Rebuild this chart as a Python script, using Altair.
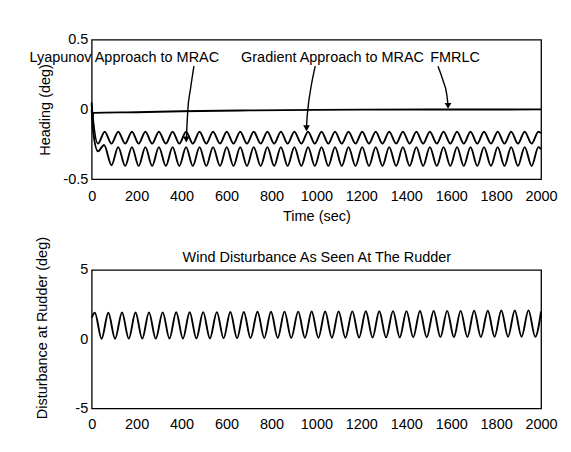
import altair as alt
import pandas as pd

FONT = "Liberation Sans"
FS = 14.5

time_ticks = [0, 200, 400, 600, 800, 1000, 1200, 1400, 1600, 1800, 2000]
heading_ticks = [-0.5, 0, 0.5]
dist_ticks = [-5, 0, 5]

# Heading, Gradient Approach to MRAC (upper oscillation): extrema
grad_t = [0, 4, 28, 58, 88, 118, 149, 179, 209, 239, 269, 299, 330, 360, 390, 420, 450, 480,
          510, 540, 571, 601, 631, 661, 691, 721, 752, 782, 812, 842, 872, 902, 933, 963,
          993, 1023, 1053, 1083, 1113, 1143, 1174, 1204, 1234, 1264, 1294, 1324, 1355, 1385,
          1415, 1445, 1475, 1505, 1536, 1566, 1596, 1626, 1656, 1686, 1716, 1746, 1777, 1807,
          1837, 1867, 1897, 1927, 1958, 1988, 2000]
grad_h = [0.03, -0.04, -0.245, -0.16, -0.245, -0.16, -0.245, -0.16, -0.245, -0.16, -0.245, -0.16,
          -0.245, -0.16, -0.245, -0.16, -0.245, -0.16, -0.245, -0.16, -0.245, -0.16, -0.245, -0.16,
          -0.245, -0.16, -0.245, -0.16, -0.245, -0.16, -0.245, -0.16, -0.245, -0.16, -0.245, -0.16,
          -0.245, -0.16, -0.245, -0.16, -0.245, -0.16, -0.245, -0.16, -0.245, -0.16, -0.245, -0.16,
          -0.245, -0.16, -0.245, -0.16, -0.245, -0.16, -0.245, -0.16, -0.245, -0.16, -0.245, -0.16,
          -0.245, -0.16, -0.245, -0.16, -0.245, -0.16, -0.245, -0.16, -0.17]

# Heading, Lyapunov Approach to MRAC (lower oscillation)
lyap_t = [0, 6, 28, 55, 88, 118, 149, 179, 209, 239, 269, 299, 330, 360, 390, 420, 450, 480,
          510, 540, 571, 601, 631, 661, 691, 721, 752, 782, 812, 842, 872, 902, 933, 963,
          993, 1023, 1053, 1083, 1113, 1143, 1174, 1204, 1234, 1264, 1294, 1324, 1355, 1385,
          1415, 1445, 1475, 1505, 1536, 1566, 1596, 1626, 1656, 1686, 1716, 1746, 1777, 1807,
          1837, 1867, 1897, 1927, 1958, 1988, 2000]
lyap_h = [0.0, -0.15, -0.30, -0.255, -0.40, -0.27, -0.405, -0.27, -0.405, -0.27, -0.405, -0.27,
          -0.405, -0.27, -0.405, -0.27, -0.405, -0.27, -0.405, -0.27, -0.405, -0.27, -0.405, -0.27,
          -0.405, -0.27, -0.405, -0.27, -0.405, -0.27, -0.405, -0.27, -0.405, -0.27, -0.405, -0.27,
          -0.405, -0.27, -0.405, -0.27, -0.405, -0.27, -0.405, -0.27, -0.405, -0.27, -0.405, -0.27,
          -0.405, -0.27, -0.405, -0.27, -0.405, -0.27, -0.405, -0.27, -0.405, -0.27, -0.405, -0.27,
          -0.405, -0.27, -0.405, -0.27, -0.405, -0.27, -0.405, -0.27, -0.285]

# Heading, FMRLC
fmrlc_t = [0, 3, 8, 200, 400, 700, 1000, 1500, 2000]
fmrlc_h = [0.05, -0.06, -0.025, -0.02, -0.013, -0.007, -0.003, -0.001, 0.0]

# Wind disturbance at the rudder
wind_t = [0, 14, 44, 74, 104, 135, 165, 195, 225, 255, 285, 316, 346, 376, 406, 436, 466, 496,
          526, 557, 587, 617, 647, 677, 707, 738, 768, 798, 828, 858, 888, 919, 949, 979, 1009,
          1039, 1069, 1099, 1129, 1160, 1190, 1220, 1250, 1280, 1310, 1341, 1371, 1401, 1431,
          1461, 1491, 1522, 1552, 1582, 1612, 1642, 1672, 1702, 1732, 1763, 1793, 1823, 1853,
          1883, 1913, 1944, 1974, 2000]
wind_d = [1.55, 1.9, 0.02, 1.9, 0.02, 1.92, 0.03, 1.92, 0.03, 1.93, 0.03, 1.93, 0.04, 1.94, 0.04,
          1.94, 0.05, 1.95, 0.05, 1.95, 0.06, 1.96, 0.06, 1.96, 0.07, 1.97, 0.07, 1.97, 0.08, 1.98,
          0.08, 1.98, 0.09, 1.99, 0.09, 1.99, 0.1, 2.0, 0.1, 2.0, 0.11, 2.01, 0.11, 2.01, 0.12, 2.02,
          0.12, 2.02, 0.13, 2.03, 0.13, 2.03, 0.14, 2.04, 0.14, 2.04, 0.15, 2.05, 0.15, 2.05, 0.16,
          2.06, 0.16, 2.06, 0.17, 2.07, 0.17, 2.0]

# Annotations (time, heading)
label_text = ["Lyapunov Approach to MRAC", "Gradient Approach to MRAC", "FMRLC"]
label_t = [145, 1072, 1617]
label_h = [0.365, 0.365, 0.365]

arrow_id = ["L", "L", "L", "L", "L", "G", "G", "G", "G", "G", "F", "F", "F", "F"]
arrow_t = [455, 440, 428, 423, 421, 995, 975, 962, 957, 956, 1541, 1565, 1580, 1586]
arrow_h = [0.31, 0.15, 0.0, -0.15, -0.23, 0.31, 0.15, 0.0, -0.10, -0.15, 0.31, 0.2, 0.11, 0.03]
head_t = [421, 956, 1586]
head_h = [-0.215, -0.135, 0.025]

# ---------- tables ----------
heading_df = pd.concat([
    pd.DataFrame({"t": grad_t, "v": grad_h, "s": "Gradient"}),
    pd.DataFrame({"t": lyap_t, "v": lyap_h, "s": "Lyapunov"}),
    pd.DataFrame({"t": fmrlc_t, "v": fmrlc_h, "s": "FMRLC"}),
])
heading_df["o"] = range(len(heading_df))
wind_df = pd.DataFrame({"t": wind_t, "v": wind_d})
label_df = pd.DataFrame({"t": label_t, "v": label_h, "txt": label_text})
arrow_df = pd.DataFrame({"t": arrow_t, "v": arrow_h, "a": arrow_id})
arrow_df["o"] = range(len(arrow_df))
head_df = pd.DataFrame({"t": head_t, "v": head_h})

xscale = alt.Scale(domain=[0, 2000], nice=False, zero=False)
hscale = alt.Scale(domain=[-0.5, 0.5], nice=False)
dscale = alt.Scale(domain=[-5, 5], nice=False)

common_axis = dict(grid=False, domain=False, ticks=False, tickSize=0,
                   labelFont=FONT, labelFontSize=FS, labelColor="black",
                   titleFont=FONT, titleFontSize=FS, titleColor="black",
                   titleFontWeight="normal", labelExpr="'' + datum.value")

x_top = alt.X("t:Q", scale=xscale,
              axis=alt.Axis(values=time_ticks, title="Time (sec)", labelPadding=10,
                            titlePadding=7, labelFlush=False, **common_axis))
y_top = alt.Y("v:Q", scale=hscale,
              axis=alt.Axis(values=heading_ticks, title="Heading (deg)", labelPadding=4,
                            titlePadding=10, labelFlush=False, **common_axis))

lines = alt.Chart(heading_df).mark_line(color="black", strokeWidth=1.9,
                                        interpolate="monotone").encode(
    x=x_top, y=y_top, detail="s:N", order="o:Q")
arrows = alt.Chart(arrow_df).mark_line(color="black", strokeWidth=1.4,
                                       interpolate="monotone").encode(
    x="t:Q", y="v:Q", detail="a:N", order="o:Q")
heads = alt.Chart(head_df).mark_point(shape="triangle-down", filled=True, color="black",
                                      size=45, opacity=1).encode(x="t:Q", y="v:Q")
labels = alt.Chart(label_df).mark_text(font=FONT, fontSize=FS, color="black").encode(
    x="t:Q", y="v:Q", text="txt:N")

top = alt.layer(lines, arrows, heads, labels).properties(width=451, height=140)

x_bot = alt.X("t:Q", scale=xscale,
              axis=alt.Axis(values=time_ticks, title=None, labelPadding=9,
                            labelFlush=False, **common_axis))
y_bot = alt.Y("v:Q", scale=dscale,
              axis=alt.Axis(values=dist_ticks, title="Disturbance at Rudder (deg)",
                            labelPadding=4, titlePadding=25, titleY=58, labelFlush=False,
                            **common_axis))

wind_line = alt.Chart(wind_df).mark_line(color="black", strokeWidth=1.9,
                                         interpolate="monotone").encode(x=x_bot, y=y_bot)
# invisible copy that carries the panel title on a top axis
wind_title = alt.Chart(wind_df).mark_line(strokeOpacity=0).encode(
    x=alt.X("t:Q", scale=xscale,
            axis=alt.Axis(orient="top", title="Wind Disturbance As Seen At The Rudder",
                          labels=False, titlePadding=5, grid=False, domain=False,
                          ticks=False, titleFont=FONT, titleFontSize=FS,
                          titleColor="black", titleFontWeight="normal")),
    y=alt.Y("v:Q", scale=dscale, axis=None))

bottom = alt.layer(wind_line, wind_title).resolve_axis(
    x="independent", y="independent").properties(width=451, height=139)

chart = alt.vconcat(top, bottom, spacing=11).properties(
    padding={"left": 20, "top": 22, "right": 5, "bottom": 5},
    background="white",
).configure_view(stroke="black", strokeWidth=1.3)

chart.save("out.html", embed_options={"renderer": "svg", "actions": False})
